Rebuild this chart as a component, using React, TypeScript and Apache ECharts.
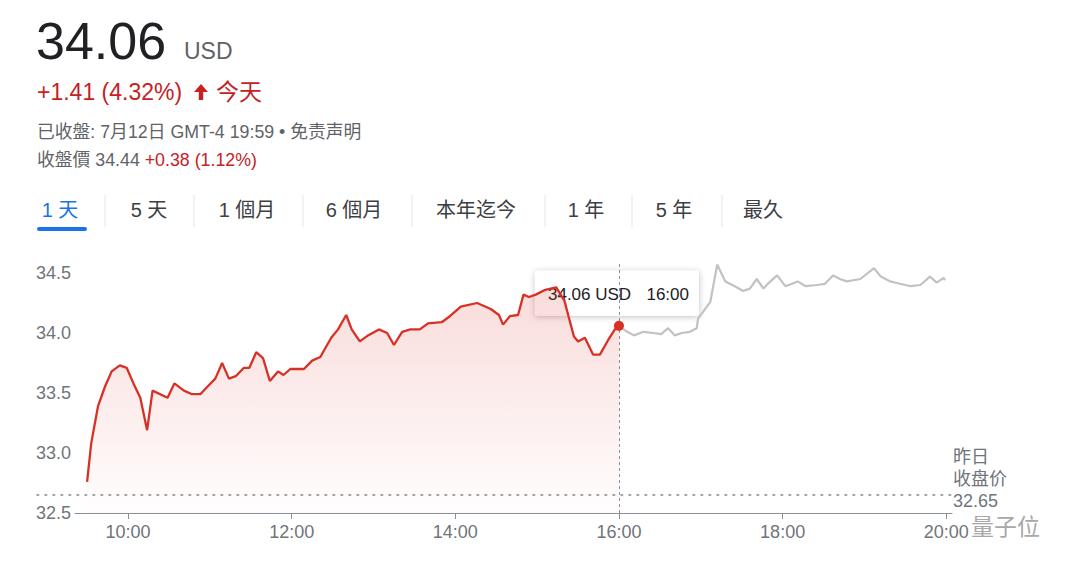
import React, { useEffect, useRef } from "react";
import * as echarts from "echarts";

// Regular session (red) — time / price
const redTimes = [
  "09:30", "09:33", "09:38", "09:43", "09:48", "09:54", "09:59", "10:04", "10:09", "10:14",
  "10:18", "10:29", "10:34", "10:41", "10:47", "10:53", "10:58", "11:04", "11:09", "11:14",
  "11:19", "11:25", "11:29", "11:34", "11:39", "11:44", "11:50", "11:54", "11:59", "12:09",
  "12:15", "12:21", "12:29", "12:34", "12:40", "12:44", "12:50", "12:56", "13:04", "13:10",
  "13:15", "13:21", "13:27", "13:34", "13:40", "13:50", "13:56", "14:04", "14:16", "14:26",
  "14:32", "14:35", "14:40", "14:46", "14:50", "14:54", "14:59", "15:06", "15:14", "15:20",
  "15:23", "15:27", "15:30", "15:35", "15:41", "15:46", "15:52", "15:57", "16:00",
];
const redValues = [
  32.76, 33.08, 33.39, 33.55, 33.68, 33.73, 33.71, 33.58, 33.46, 33.19,
  33.52, 33.46, 33.58, 33.52, 33.49, 33.49, 33.55, 33.62, 33.75, 33.62,
  33.64, 33.71, 33.71, 33.84, 33.79, 33.6, 33.68, 33.65, 33.7, 33.7,
  33.77, 33.8, 33.96, 34.03, 34.15, 34.03, 33.93, 33.98, 34.03, 34.0,
  33.9, 34.01, 34.03, 34.03, 34.08, 34.09, 34.14, 34.22, 34.25, 34.2,
  34.15, 34.07, 34.14, 34.15, 34.32, 34.3, 34.32, 34.36, 34.38, 34.27,
  34.14, 33.97, 33.93, 33.96, 33.82, 33.82, 33.94, 34.03, 34.06,
];

// After-hours (grey) — time / price
const grayTimes = [
  "16:00", "16:06", "16:11", "16:18", "16:25", "16:31", "16:36", "16:41", "16:46", "16:52",
  "16:57", "16:58", "17:07", "17:12", "17:18", "17:25", "17:31", "17:36", "17:41", "17:46",
  "17:50", "17:56", "18:02", "18:07", "18:11", "18:17", "18:25", "18:31", "18:37", "18:42",
  "18:47", "18:57", "19:07", "19:12", "19:19", "19:26", "19:34", "19:41", "19:48", "19:53",
  "19:58", "19:59",
];
const grayValues = [
  34.06, 34.01, 33.98, 34.01, 34.0, 33.99, 34.04, 33.98, 34.0, 34.01,
  34.04, 34.12, 34.26, 34.57, 34.43, 34.39, 34.35, 34.37, 34.45, 34.37,
  34.42, 34.48, 34.39, 34.41, 34.43, 34.39, 34.4, 34.41, 34.48, 34.45,
  34.43, 34.45, 34.54, 34.47, 34.43, 34.41, 34.39, 34.4, 34.47, 34.42,
  34.46, 34.44,
];

const xTickLabels = ["10:00", "12:00", "14:00", "16:00", "18:00", "20:00"];
const yTickValues = [32.5, 33.0, 33.5, 34.0, 34.5];
const tabs = ["1 天", "5 天", "1 個月", "6 個月", "本年迄今", "1 年", "5 年", "最久"];
const previousClose = 32.65;
const lastPrice = 34.06;
const lastTime = "16:00";

const FONT = "'Liberation Sans', Arial, 'Noto Sans CJK SC', sans-serif";
const toHours = (s: string) => {
  const [h, m] = s.split(":").map(Number);
  return h + m / 60;
};
const fmtTime = (v: number) => {
  const h = Math.floor(v + 1e-6);
  const m = Math.round((v - h) * 60);
  return `${h}:${String(m).padStart(2, "0")}`;
};

export default function App() {
  const ref = useRef<HTMLDivElement>(null);
  useEffect(() => {
    if (!ref.current) return;
    const chart = echarts.init(ref.current, null, { renderer: "svg" });
    const red = redTimes.map((t, i) => [toHours(t), redValues[i]]);
    const gray = grayTimes.map((t, i) => [toHours(t), grayValues[i]]);
    const xTickValues = xTickLabels.map(toHours);
    const xMin = 9.352;
    const xMax = 20.07;
    const lastX = toHours(lastTime);

    chart.setOption({
      animation: false,
      grid: { left: 75, right: 128, top: 261, bottom: 56 },
      xAxis: {
        type: "value",
        min: xMin,
        max: xMax,
        axisLine: { show: true, onZero: false, lineStyle: { color: "#8a8f95", width: 1 } },
        axisTick: { show: true, customValues: xTickValues, length: 6, lineStyle: { color: "#8a8f95" } },
        axisLabel: {
          customValues: xTickValues,
          formatter: (v: number) => fmtTime(v),
          color: "#70757a",
          fontSize: 18,
          fontFamily: FONT,
          margin: 10,
        },
        splitLine: { show: false },
      },
      yAxis: {
        type: "value",
        min: 32.5,
        max: 34.6,
        axisLine: { show: false },
        axisTick: { show: false },
        splitLine: { show: false },
        axisLabel: {
          customValues: yTickValues,
          formatter: (v: number) => v.toFixed(1),
          align: "left",
          margin: 39,
          color: "#70757a",
          fontSize: 18,
          fontFamily: FONT,
        },
      },
      series: [
        {
          type: "line",
          data: gray,
          showSymbol: false,
          silent: true,
          lineStyle: { color: "#c2c2c2", width: 2.2 },
          z: 2,
        },
        {
          type: "line",
          data: red,
          showSymbol: false,
          silent: true,
          lineStyle: { color: "#d93025", width: 2.3 },
          areaStyle: {
            origin: "start",
            color: new echarts.graphic.LinearGradient(0, 0, 0, 1, [
              { offset: 0, color: "rgba(217,48,37,0.24)" },
              { offset: 1, color: "rgba(217,48,37,0.01)" },
            ]),
          },
          z: 3,
          markLine: {
            silent: true,
            symbol: "none",
            label: { show: false },
            data: [{ xAxis: lastX, lineStyle: { color: "#8a8f95", type: [3, 3], width: 1 } }],
          },
          markPoint: {
            symbol: "circle",
            symbolSize: 10,
            itemStyle: { color: "#d93025" },
            label: { show: false },
            data: [{ coord: [lastX, lastPrice] }],
          },
        },
      ],
    });

    const p = chart.convertToPixel({ gridIndex: 0 }, [lastX, lastPrice]) as number[];
    const pcR = chart.convertToPixel({ gridIndex: 0 }, [xMax, previousClose]) as number[];

    const tabCenters = [60, 149, 247, 354, 476, 586, 674, 763];
    const seps = [105, 194, 303, 412, 545, 632, 722];

    const elements: any[] = [
      { type: "text", x: 36, y: 41, style: { text: "34.06", font: `52px ${FONT}`, fill: "#202124", verticalAlign: "middle" } },
      { type: "text", x: 184, y: 51, style: { text: "USD", font: `23px ${FONT}`, fill: "#5f6368", verticalAlign: "middle" } },
      { type: "text", x: 37, y: 92, style: { text: "+1.41 (4.32%)", font: `23px ${FONT}`, fill: "#c5221f", verticalAlign: "middle" } },
      {
        type: "polygon",
        shape: { points: [[194, 92], [201, 84], [208, 92], [203.2, 92], [203.2, 100], [198.8, 100], [198.8, 92]] },
        style: { fill: "#c5221f" },
      },
      { type: "text", x: 216, y: 92, style: { text: "今天", font: `23px ${FONT}`, fill: "#c5221f", verticalAlign: "middle" } },
      {
        type: "text", x: 37, y: 132,
        style: { text: "已收盤: 7月12日 GMT-4 19:59 • 免责声明", font: `17.8px ${FONT}`, fill: "#5f6368", verticalAlign: "middle" },
      },
      {
        type: "text", x: 37, y: 160,
        style: {
          text: "{g|收盤價 34.44 }{r|+0.38 (1.12%)}",
          font: `17.8px ${FONT}`,
          verticalAlign: "middle",
          rich: {
            g: { fill: "#5f6368", font: `17.8px ${FONT}` },
            r: { fill: "#c5221f", font: `17.8px ${FONT}` },
          },
        },
      },
      ...tabs.map((t, i) => ({
        type: "text", x: tabCenters[i], y: 210,
        style: { text: t, font: `20px ${FONT}`, fill: i === 0 ? "#1a73e8" : "#3c4043", align: "center", verticalAlign: "middle" },
      })),
      ...seps.map((x) => ({
        type: "line", shape: { x1: x, y1: 195, x2: x, y2: 227 }, style: { stroke: "#e3e5e8", lineWidth: 1 },
      })),
      { type: "rect", shape: { x: 37, y: 227, width: 50, height: 4, r: 2 }, style: { fill: "#1a73e8" } },
      // previous close dotted line
      {
        type: "line", z: 1,
        shape: { x1: 37, y1: pcR[1], x2: pcR[0], y2: pcR[1] },
        style: { stroke: "#80868b", lineWidth: 1.6, lineDash: [1.6, 6.4], lineCap: "round" },
      },
      {
        type: "text", x: pcR[0] + 1, y: pcR[1] - 49,
        style: { text: "昨日\n收盘价\n" + previousClose.toFixed(2), font: `18px ${FONT}`, lineHeight: 22, fill: "#70757a", verticalAlign: "top" },
      },
      // tooltip box
      {
        type: "group", z: 100,
        children: [
          {
            type: "rect",
            shape: { x: p[0] - 84, y: p[1] - 55, width: 164, height: 45, r: 2 },
            style: { fill: "#ffffff", shadowBlur: 6, shadowColor: "rgba(0,0,0,0.25)", shadowOffsetY: 1 },
          },
          {
            type: "text", x: p[0] - 71, y: p[1] - 31,
            style: { text: lastPrice.toFixed(2) + " USD", font: `17px ${FONT}`, fill: "#202124", verticalAlign: "middle" },
          },
          {
            type: "text", x: p[0] + 70, y: p[1] - 31,
            style: { text: lastTime, font: `17px ${FONT}`, fill: "#202124", align: "right", verticalAlign: "middle" },
          },
        ],
      },
      {
        type: "text", x: 971, y: 525, z: 100,
        style: { text: "量子位", font: `23px 'Noto Sans CJK SC', sans-serif`, fill: "#a8a8a8", verticalAlign: "middle" },
      },
    ];

    chart.setOption({ graphic: { elements } });

    return () => chart.dispose();
  }, []);

  return (
    <div
      ref={ref}
      style={{ position: "fixed", left: 0, top: 0, width: 1080, height: 569, background: "#ffffff" }}
    />
  );
}
